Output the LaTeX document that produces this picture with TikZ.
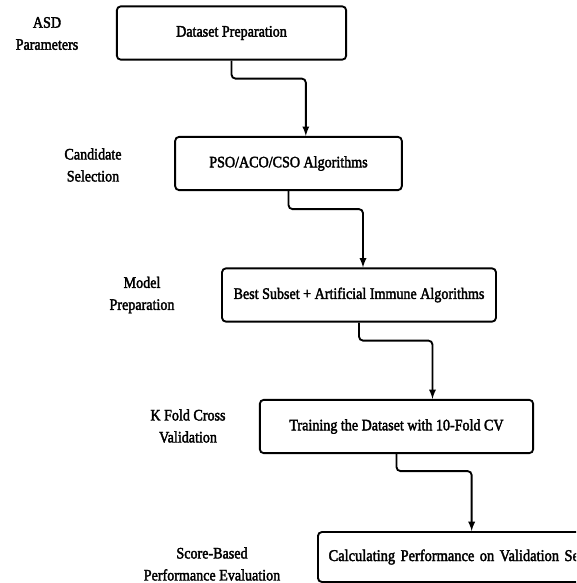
\documentclass[tikz,border=0pt]{standalone}
\usepackage{fontspec}
\setmainfont{Liberation Serif}[FakeStretch=0.88,FakeBold=2.2]
\usepackage{tikz}
\usetikzlibrary{arrows}
\tikzstyle{nodofase} = [rectangle,rounded corners=3pt,line width=1.4pt,draw=black,fill=white,text centered,minimum height=40pt]
\tikzstyle{etichetta} = [align=center,text=black]
\tikzstyle{arrow} = [line width=1.4pt,->,>=latex,rounded corners=3pt]

\begin{document}
\begin{tikzpicture}[x=0.75pt,y=-0.75pt]
\tikzstyle{every node}=[font=\fontsize{12}{16.5}\selectfont]
\clip (0,0) rectangle (576,583);

\node (prep) [nodofase,minimum width=172pt] at (231.5,33) {Dataset Preparation};
\node (cand) [nodofase,minimum width=170pt] at (288.5,163.5) {PSO/ACO/CSO Algorithms};
\node (model) [nodofase,minimum width=205.5pt] at (359,295) {Best Subset + Artificial Immune Algorithms};
\node (kfold) [nodofase,minimum width=205pt] at (396.5,426.5) {Training the Dataset with 10-Fold CV};
\node (score) [nodofase,anchor=west,inner xsep=8pt,text width=230pt,align=left,minimum height=37.5pt,font=\fontsize{12.3}{15}\selectfont] at (317,557) {Calculating Performance on Validation Set};

\node (l_prep) [etichetta] at (47,33.5) {ASD\\Parameters};
\node (l_cand) [etichetta] at (93,165) {Candidate\\Selection};
\node (l_model) [etichetta] at (142,295) {Model\\Preparation};
\node (l_kfold) [etichetta] at (188,426) {K Fold Cross\\Validation};
\node (l_score) [etichetta] at (212,564) {Score-Based\\Performance Evaluation};

\draw[arrow] (prep.south) -- ++(0,18) -| ([xshift=13pt]cand.north);
\draw[arrow] (cand.south) -- ++(0,18) -| ([xshift=3pt]model.north);
\draw[arrow] (model.south) -- ++(0,18) -| ([xshift=27pt]kfold.north);
\draw[arrow] (kfold.south) -- ++(0,17) -| ([xshift=116pt]score.north west);
\end{tikzpicture}
\end{document}
